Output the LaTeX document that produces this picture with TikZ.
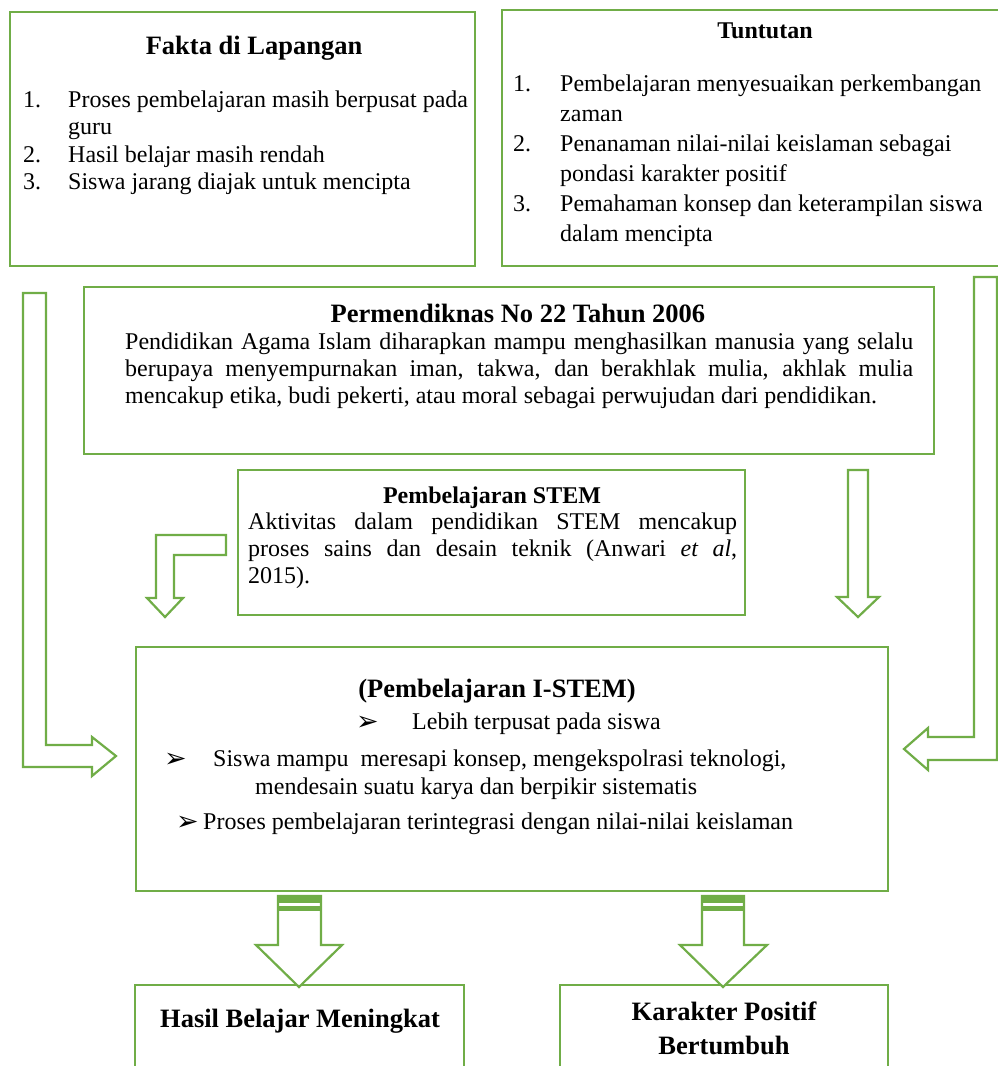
\documentclass[tikz,border=0pt]{standalone}
\usepackage{fontspec}
\setmainfont{Liberation Serif}
\newfontfamily\dingfont{DejaVu Sans}
\usepackage{array}
\definecolor{boxgreen}{RGB}{112,173,71}
\tikzset{
  greenbox/.style={draw=boxgreen, line width=2.2pt},
  blockarrow/.style={draw=boxgreen, line width=2.2pt, fill=white, line join=miter},
  bodytext/.style={inner sep=0pt, font=\fontsize{24}{27.5}\selectfont},
  titletext/.style={inner sep=0pt, font=\bfseries\fontsize{26.5}{30}\selectfont},
  smalltitle/.style={inner sep=0pt, font=\bfseries\fontsize{24}{28}\selectfont},
}
\newcommand{\bulletmark}{{\dingfont\fontsize{27}{28}\selectfont ➢}}

\begin{document}
\begin{tikzpicture}[x=1pt, y=-1pt]
    \useasboundingbox (0,0) rectangle (998,1066);
    \clip (0,0) rectangle (998,1066);
    \fill[white] (0,0) rectangle (998,1066);

    % ==== Fakta di Lapangan ====
    \draw[greenbox] (10,12) rectangle (475,266);
    \node[titletext, anchor=base] (fakta-title) at (254,54) {Fakta di Lapangan};
    \node[bodytext, anchor=base west] (fakta-list) at (23,107) {%
      \begin{tabular}[t]{@{}p{45pt}@{}l@{}}
        1. & Proses pembelajaran masih berpusat pada\\
           & guru\\
        2. & Hasil belajar masih rendah\\
        3. & Siswa jarang diajak untuk mencipta
      \end{tabular}};

    % ==== Tuntutan ====
    \draw[greenbox] (502,10) rectangle (1005,266);
    \node[smalltitle, anchor=base] (tuntutan-title) at (765,38) {Tuntutan};
    \node[bodytext, font=\fontsize{24}{30}\selectfont, anchor=base west] (tuntutan-list) at (513,91) {%
      \begin{tabular}[t]{@{}p{47pt}@{}l@{}}
        1. & Pembelajaran menyesuaikan perkembangan\\
           & zaman\\
        2. & Penanaman nilai-nilai keislaman sebagai\\
           & pondasi karakter positif\\
        3. & Pemahaman konsep dan keterampilan siswa\\
           & dalam mencipta
      \end{tabular}};

    % ==== Permendiknas ====
    \draw[greenbox] (84,287) rectangle (934,454);
    \node[titletext, anchor=base] (permen-title) at (518,322) {Permendiknas No 22 Tahun 2006};
    \node[bodytext, font=\fontsize{24}{27}\selectfont, text width=788pt, align=justify, anchor=base west] (permen-text) at (125,349) {%
      Pendidikan Agama Islam diharapkan mampu menghasilkan manusia yang selalu\linebreak
      berupaya menyempurnakan iman, takwa, dan berakhlak mulia, akhlak mulia\linebreak
      mencakup etika, budi pekerti, atau moral sebagai perwujudan dari pendidikan.};

    % ==== Pembelajaran STEM ====
    \draw[greenbox] (238,470) rectangle (745,615);
    \node[smalltitle, anchor=base] (stem-title) at (492,503) {Pembelajaran STEM};
    \node[bodytext, font=\fontsize{24}{27}\selectfont, text width=489pt, align=justify, anchor=base west] (stem-text) at (248,529) {%
      Aktivitas dalam pendidikan STEM mencakup\linebreak
      proses sains dan desain teknik (Anwari \textit{et al},\linebreak
      2015).};

    % ==== Pembelajaran I-STEM ====
    \draw[greenbox] (136,647) rectangle (888,891);
    \node[titletext, anchor=base] (istem-title) at (497,697) {(Pembelajaran I-STEM)};
    \node[inner sep=0pt, anchor=base west] (istem-b1) at (356,730) {\bulletmark};
    \node[bodytext, anchor=base west] (istem-l1) at (412,729) {Lebih terpusat pada siswa};
    \node[inner sep=0pt, anchor=base west] (istem-b2) at (164,767) {\bulletmark};
    \node[bodytext, anchor=base west] (istem-l2) at (213,766) {Siswa mampu\ \ meresapi konsep, mengekspolrasi teknologi,};
    \node[bodytext, anchor=base west] (istem-l2b) at (255,794) {mendesain suatu karya dan berpikir sistematis};
    \node[inner sep=0pt, anchor=base west] (istem-b3) at (176,830) {\bulletmark};
    \node[bodytext, anchor=base west] (istem-l3) at (203,829) {Proses pembelajaran terintegrasi dengan nilai-nilai keislaman};

    % ==== Result boxes ====
    \draw[greenbox] (135,985) rectangle (464,1075);
    \node[titletext, anchor=base] (hasil-title) at (300,1027) {Hasil Belajar Meningkat};
    \draw[greenbox] (560,985) rectangle (888,1075);
    % base of a two-line node sits on its last line
    \node[titletext, font=\bfseries\fontsize{26.5}{34}\selectfont, align=center, anchor=base] (karakter-title) at (724,1054) {Karakter Positif\\Bertumbuh};

    % ==== Block arrows ====
    % left L-arrow (Fakta -> I-STEM)
    \draw[blockarrow] (23,293) -- (46,293) -- (46,745) -- (92,745) -- (92,737) -- (116,756)
        -- (92,776) -- (92,767) -- (23,767) -- cycle;
    % right L-arrow (Tuntutan -> I-STEM)
    \draw[blockarrow] (974,277) -- (997,277) -- (997,760) -- (928,760) -- (928,770) -- (904,749)
        -- (928,728) -- (928,737) -- (974,737) -- cycle;
    % bent arrow left of STEM
    \draw[blockarrow] (226,535) -- (226,555) -- (174,555) -- (174,598) -- (183,598) -- (165,617)
        -- (147,598) -- (156,598) -- (156,535) -- cycle;
    % straight arrow right of STEM
    \draw[blockarrow] (848,470) -- (868,470) -- (868,597) -- (879,597) -- (858,617)
        -- (837,597) -- (848,597) -- cycle;
    % striped arrows down to the results
    \draw[blockarrow] (278,896) -- (321,896) -- (321,945) -- (342,945) -- (299,987)
        -- (256,945) -- (278,945) -- cycle;
    \fill[boxgreen] (278,896) rectangle (321,903);
    \fill[boxgreen] (278,906) rectangle (321,911);
    \draw[blockarrow] (702,896) -- (744,896) -- (744,945) -- (767,945) -- (723,987)
        -- (680,945) -- (702,945) -- cycle;
    \fill[boxgreen] (702,896) rectangle (744,903);
    \fill[boxgreen] (702,906) rectangle (744,911);
\end{tikzpicture}
\end{document}
